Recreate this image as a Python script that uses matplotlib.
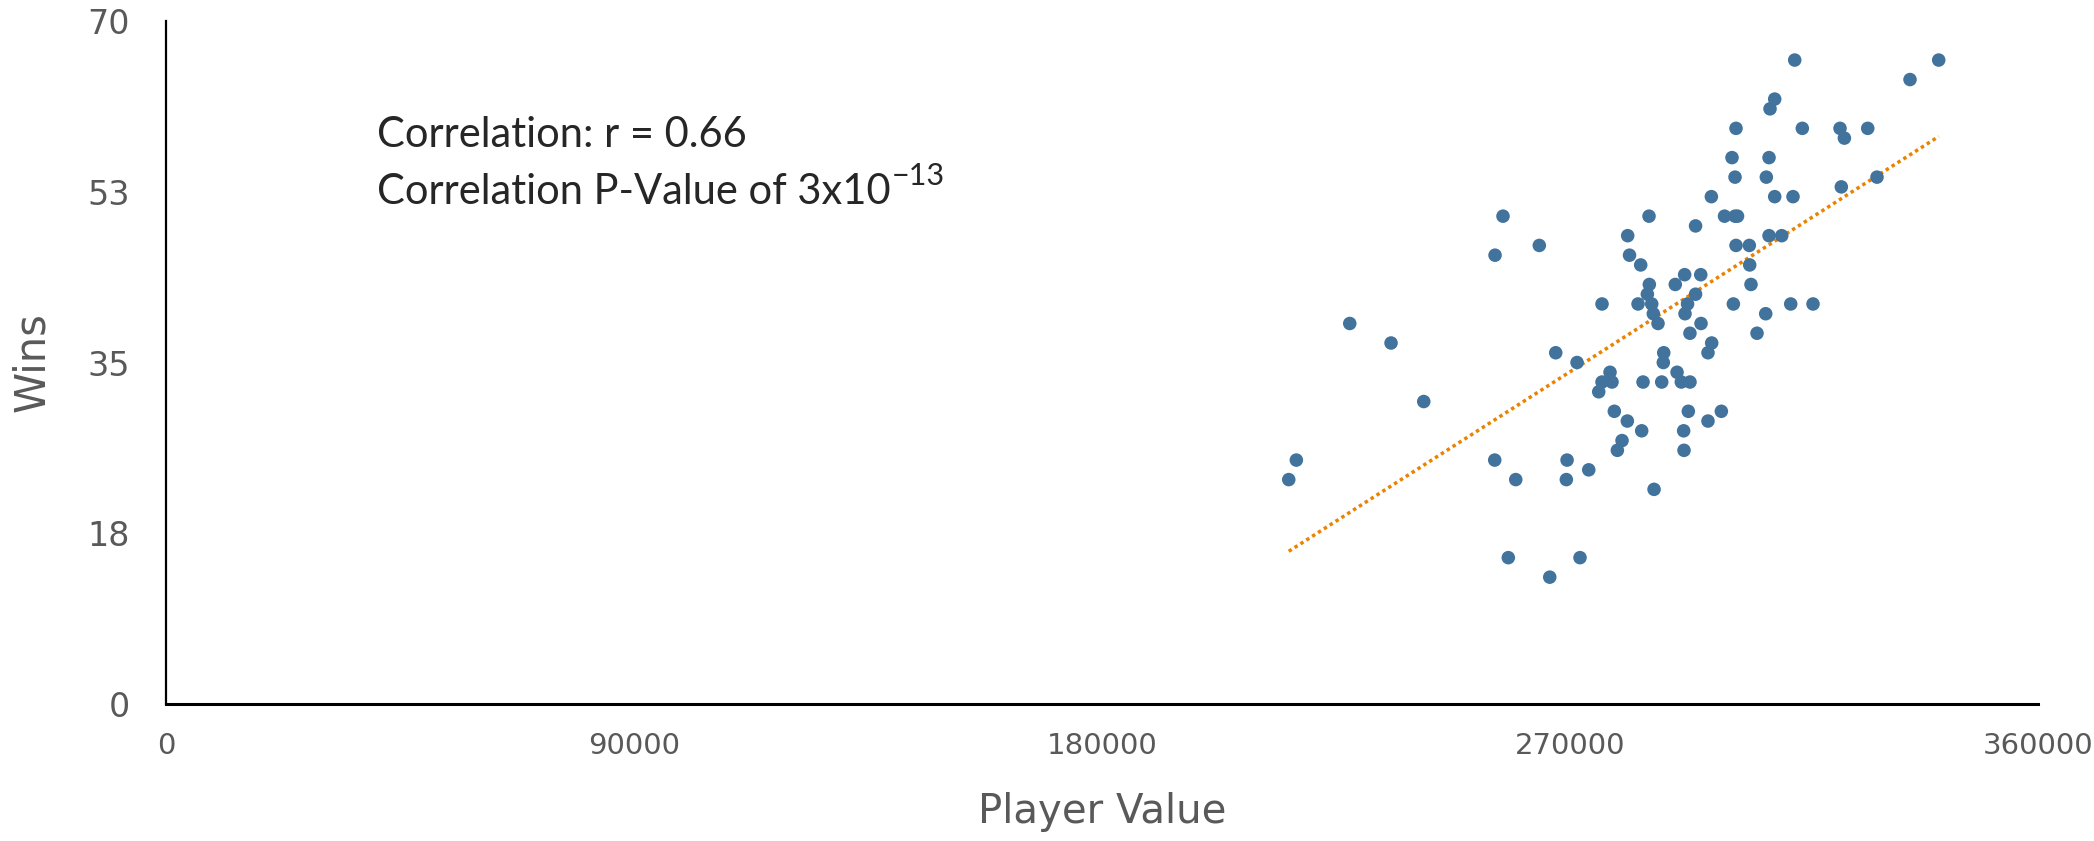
import matplotlib
matplotlib.use("Agg")
import matplotlib.pyplot as plt
import numpy as np

# player value (x) and wins (y)
player_value = [
    257100, 285180, 294130, 281080, 264080, 255570, 281430, 283580, 292030, 295130,
    285240, 290230, 284860, 294130, 276140, 283070, 285700, 292590, 286010, 292100,
    286910, 295180, 227630, 293050, 235570, 267240, 288010, 271340, 287930, 277680,
    290570, 276140, 278060, 284030, 287620, 291390, 293060, 275510, 241860, 278510,
    292740, 281010, 283770, 291840, 279990, 279090, 291910, 217360, 255510, 269420,
    273590, 215900, 259550, 269280, 286150, 258120, 271910, 266090, 313200, 340890,
    335370, 309350, 308450, 301910, 314660, 321910, 327240, 322750, 301140, 308260,
    301720, 307740, 329020, 297170, 309350, 312870, 322160, 299700, 301720, 302200,
    308260, 310700, 301910, 304470, 304540, 304790, 301400, 312430, 316720, 307620,
    305950, 297230, 296520, 296520, 299090,
]
wins = [
    50, 50, 49, 48, 47, 46, 46, 45, 44, 44,
    43, 43, 42, 42, 41, 41, 41, 41, 40, 40,
    39, 39, 39, 38, 37, 36, 36, 35, 35, 34,
    34, 33, 33, 33, 33, 33, 33, 32, 31, 30,
    30, 29, 28, 28, 27, 26, 26, 25, 25, 25,
    24, 23, 23, 23, 22, 15, 15, 13, 66, 66,
    64, 62, 61, 59, 59, 59, 59, 58, 56, 56,
    54, 54, 54, 52, 52, 52, 53, 50, 50, 50,
    48, 48, 47, 47, 45, 43, 41, 41, 41, 40,
    38, 37, 36, 29, 30,
]

x_ticks = [0, 90000, 180000, 270000, 360000]
y_ticks = [0, 17.5, 35, 52.5, 70]
y_tick_labels = ["0", "18", "35", "53", "70"]

x = np.array(player_value)
y = np.array(wins)

fig = plt.figure(figsize=(20.94, 8.41), dpi=100)
ax = fig.add_axes([0.0793, 0.1629, 0.894, 0.8121])

ax.scatter(x, y, s=95, color="#41739C", edgecolors="none", zorder=3)

# linear trend line over the data range
slope, intercept = np.polyfit(x, y, 1)
t = np.array([x.min(), x.max()])
ax.plot(t, slope * t + intercept, color="#E98300", lw=2.5,
        dashes=(1, 1.0), zorder=2)

ax.set_xlim(0, 360000)
ax.set_ylim(0, 70)
ax.set_xticks(x_ticks)
ax.set_xticklabels([str(v) for v in x_ticks])
ax.set_yticks(y_ticks)
ax.set_yticklabels(y_tick_labels)

for side in ["top", "right"]:
    ax.spines[side].set_visible(False)
ax.spines["left"].set_linewidth(1.6)
ax.spines["bottom"].set_linewidth(2.2)
ax.spines["left"].set_color("black")
ax.spines["bottom"].set_color("black")

ax.tick_params(length=0, labelcolor="#595959")
ax.tick_params(axis="x", pad=20, labelsize=21)
ax.tick_params(axis="y", pad=26, labelsize=24)

ax.set_xlabel("Player Value", fontsize=29, color="#595959", labelpad=23)
ax.set_ylabel("Wins", fontsize=30, color="#595959", labelpad=25)

fig.text(0.18, 0.825, "Correlation: r = 0.66", fontsize=30, family="Lato",
         color="#262626")
t2 = fig.text(0.18, 0.757, "Correlation P-Value of 3x10", fontsize=30,
              family="Lato", color="#262626")
# superscript exponent placed right after the second line
ax.annotate("\u221213", xy=(1.0, 1.0), xycoords=t2, xytext=(1, 8),
            textcoords="offset points", ha="left", va="top", fontsize=22,
            family=["Lato", "DejaVu Sans"], color="#262626")

fig.savefig("out.png", dpi=100)
